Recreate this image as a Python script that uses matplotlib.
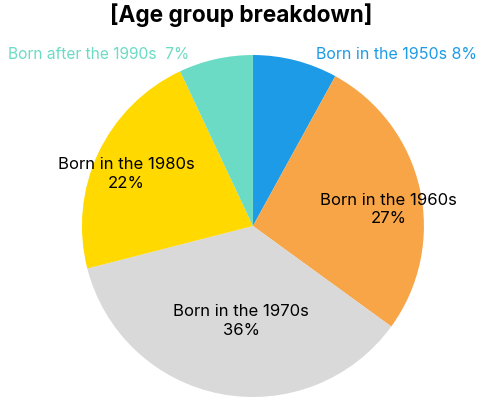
import numpy as np
from matplotlib import pyplot as plt

plt.rcParams['font.family'] = ['Inter', 'DejaVu Sans']

# data
groups = ['Born in the 1950s', 'Born in the 1960s', 'Born in the 1970s',
          'Born in the 1980s', 'Born after the 1990s']
shares = [8, 27, 36, 22, 7]
colors = ['#1E9BE6', '#F7A547', '#D9D9D9', '#FFD900', '#6BDBC5']

fig = plt.figure(figsize=(4.82, 4.0), dpi=100)
ax = fig.add_axes([0.170, 0.0075, 0.7095, 0.855])

wedges, _ = ax.pie(shares, colors=colors, startangle=90, counterclock=False,
                   radius=1.0, wedgeprops=dict(linewidth=0))
ax.set_xlim(-1, 1)
ax.set_ylim(-1, 1)
ax.set_aspect('equal')

# inner labels (two lines) at per-slice distance
inner = {1: (0.80, 7), 2: (0.56, -97), 3: (0.80, 157.6)}
for i, (dist, ang) in inner.items():
    x = dist * np.cos(np.radians(ang))
    y = dist * np.sin(np.radians(ang))
    ax.text(x, y, f'{groups[i]}\n{shares[i]}%', ha='center', va='center',
            fontsize=12, color='black', linespacing=1.28)

# outer labels for small slices
ax.text(0.37, 1.005, f'{groups[0]} {shares[0]}%', ha='left', va='center',
        fontsize=11.5, color=colors[0])
ax.text(-0.37, 1.005, f'{groups[4]}  {shares[4]}%', ha='right', va='center',
        fontsize=11.2, color=colors[4])

fig.text(0.5, 0.963, '[Age group breakdown]', ha='center', va='center',
         fontsize=16.3, fontweight='bold')

fig.savefig('out.png', dpi=100)
